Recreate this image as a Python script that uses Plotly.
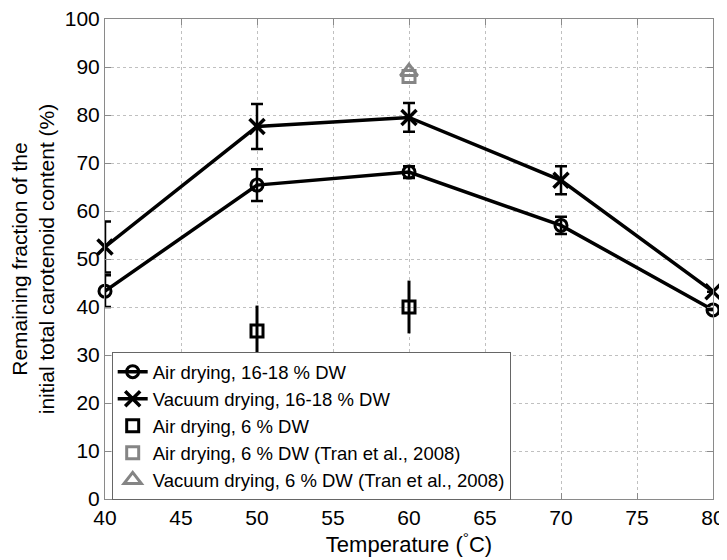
import plotly.graph_objects as go

temps = [40, 50, 60, 70, 80]
air_16 = [43.3, 65.4, 68.1, 57.0, 39.4]
air_16_err = [3.3, 3.3, 1.2, 1.8, 0.0]
vac_16 = [52.5, 77.6, 79.5, 66.4, 43.2]
vac_16_err = [5.3, 4.7, 3.0, 2.9, 0.0]

air6_t = [50, 60]
air6 = [35.0, 40.0]
air6_err_plus = [5.3, 5.5]
air6_err_minus = [5.5, 5.5]

tran_t = [60]
tran_air = [88.0]
tran_vac = [89.0]

x_ticks = [40, 45, 50, 55, 60, 65, 70, 75, 80]
y_ticks = [0, 10, 20, 30, 40, 50, 60, 70, 80, 90, 100]

FONT = "Liberation Sans, Arial, sans-serif"
fig = go.Figure()

# error bars
fig.add_trace(go.Scatter(x=temps, y=air_16, mode="markers", marker=dict(size=0.1, color="black", opacity=0),
                         error_y=dict(type="data", array=air_16_err, color="black", thickness=2.5, width=6),
                         showlegend=False, cliponaxis=True, hoverinfo="skip"))
fig.add_trace(go.Scatter(x=temps, y=vac_16, mode="markers", marker=dict(size=0.1, color="black", opacity=0),
                         error_y=dict(type="data", array=vac_16_err, color="black", thickness=2.5, width=6),
                         showlegend=False, cliponaxis=True, hoverinfo="skip"))
fig.add_trace(go.Scatter(x=air6_t, y=air6, mode="markers", marker=dict(size=0.1, color="black", opacity=0),
                         error_y=dict(type="data", symmetric=False, array=air6_err_plus, arrayminus=air6_err_minus,
                                      color="black", thickness=3, width=0),
                         showlegend=False, cliponaxis=True, hoverinfo="skip"))

fig.add_trace(go.Scatter(x=temps, y=air_16, mode="lines+markers", name="Air drying, 16-18 % DW",
                         line=dict(color="black", width=3.5),
                         marker=dict(symbol="circle-open", size=12, color="black", line=dict(width=3, color="black")),
                         cliponaxis=False))
fig.add_trace(go.Scatter(x=temps, y=vac_16, mode="lines+markers", name="Vacuum drying, 16-18 % DW",
                         line=dict(color="black", width=3.5),
                         marker=dict(symbol="x-thin-open", size=15, color="black", line=dict(width=3.5, color="black")),
                         cliponaxis=False))
fig.add_trace(go.Scatter(x=air6_t, y=air6, mode="markers", name="Air drying, 6 % DW",
                         marker=dict(symbol="square-open", size=12, color="black", line=dict(width=3, color="black")),
                         cliponaxis=False))
fig.add_trace(go.Scatter(x=tran_t, y=tran_air, mode="markers", name="Air drying, 6 % DW (Tran et al., 2008)",
                         marker=dict(symbol="square-open", size=12, color="#858585", line=dict(width=3, color="#858585")),
                         cliponaxis=False))
fig.add_trace(go.Scatter(x=tran_t, y=tran_vac, mode="markers", name="Vacuum drying, 6 % DW (Tran et al., 2008)",
                         marker=dict(symbol="triangle-up-open", size=15, color="#858585", line=dict(width=3, color="#858585")),
                         cliponaxis=False))

axis_common = dict(showline=True, linecolor="#8a8a8a", linewidth=1, mirror="ticks",
                   ticks="inside", ticklen=6, tickcolor="#8a8a8a", tickwidth=1,
                   showgrid=True, gridcolor="#c0c0c0", griddash="dot", gridwidth=1,
                   zeroline=False, automargin=False, ticklabeloverflow="allow",
                   tickfont=dict(size=21, color="black", family=FONT))

fig.update_xaxes(range=[40, 80], tickvals=x_ticks, ticktext=[str(v) for v in x_ticks],
                 title=dict(text="Temperature (<sup>°</sup>C)", font=dict(size=22, family=FONT), standoff=6),
                 **axis_common)
fig.update_yaxes(range=[0, 100], tickvals=y_ticks, ticktext=[str(v) for v in y_ticks],
                 title=dict(text="Remaining fraction of the<br>initial total carotenoid content (%)",
                            font=dict(size=21, family=FONT), standoff=6),
                 **axis_common)

# page body has an 8px margin, so the figure is sized to fit the 727x560 window
fig.update_layout(
    width=719, height=552,
    margin=dict(l=97, r=14, t=11, b=61),
    plot_bgcolor="white", paper_bgcolor="white",
    font=dict(family=FONT, size=19, color="black"),
    legend=dict(x=0.011, y=0.306, xanchor="left", yanchor="top",
                bgcolor="white", bordercolor="#666666", borderwidth=1,
                font=dict(size=18.5, family=FONT), tracegroupgap=0, itemwidth=30),
)

fig.write_html("out.html")
